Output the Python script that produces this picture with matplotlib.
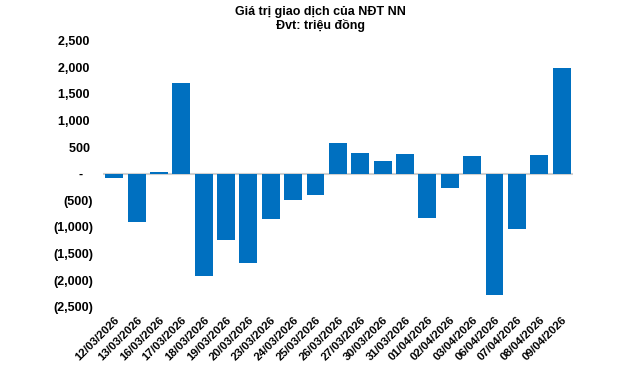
import matplotlib.pyplot as plt
from matplotlib.ticker import FuncFormatter

plt.rcParams['font.family'] = ['Liberation Sans', 'DejaVu Sans']

dates = ['12/03/2026', '13/03/2026', '16/03/2026', '17/03/2026', '18/03/2026',
         '19/03/2026', '20/03/2026', '23/03/2026', '24/03/2026', '25/03/2026',
         '26/03/2026', '27/03/2026', '30/03/2026', '31/03/2026', '01/04/2026',
         '02/04/2026', '03/04/2026', '06/04/2026', '07/04/2026', '08/04/2026',
         '09/04/2026']
values = [-85, -900, 25, 1710, -1925, -1240, -1680, -845, -490, -395,
          580, 395, 245, 375, -825, -275, 340, -2270, -1030, 355, 1990]

fig = plt.figure(figsize=(6.4, 3.67), dpi=100)
ax = fig.add_axes([0.161, 0.164, 0.734, 0.725])

x = range(len(values))
ax.bar(x, values, width=0.8, color='#0070C0', zorder=2)
ax.axhline(0, color='#D0D0D0', lw=1.5, zorder=1)

ax.set_xlim(-0.5, len(values) - 0.5)
ax.set_ylim(-2500, 2500)
ax.set_yticks(range(-2500, 2501, 500))


# accounting style: dash for zero, brackets for negatives
def acct(v, pos):
    if v == 0:
        return '-   '
    if v < 0:
        return '({:,.0f})'.format(-v)
    return '{:,.0f} '.format(v)


ax.yaxis.set_major_formatter(FuncFormatter(acct))
ax.set_xticks(list(x))
ax.set_xticklabels(dates, rotation=45, ha='right', va='top',
                   rotation_mode='anchor', fontsize=8.2, fontweight='bold')
for lab in ax.get_yticklabels():
    lab.set_fontweight('bold')
    lab.set_fontsize(9)
ax.tick_params(axis='both', length=0)
ax.tick_params(axis='y', pad=7)
ax.tick_params(axis='x', pad=6)
for s in ax.spines.values():
    s.set_visible(False)

fig.text(0.5, 0.985, 'Giá trị giao dịch của NĐT NN\nĐvt: triệu đồng',
         ha='center', va='top', fontsize=9, fontweight='bold',
         linespacing=1.15)

fig.savefig('out.png', dpi=100)
